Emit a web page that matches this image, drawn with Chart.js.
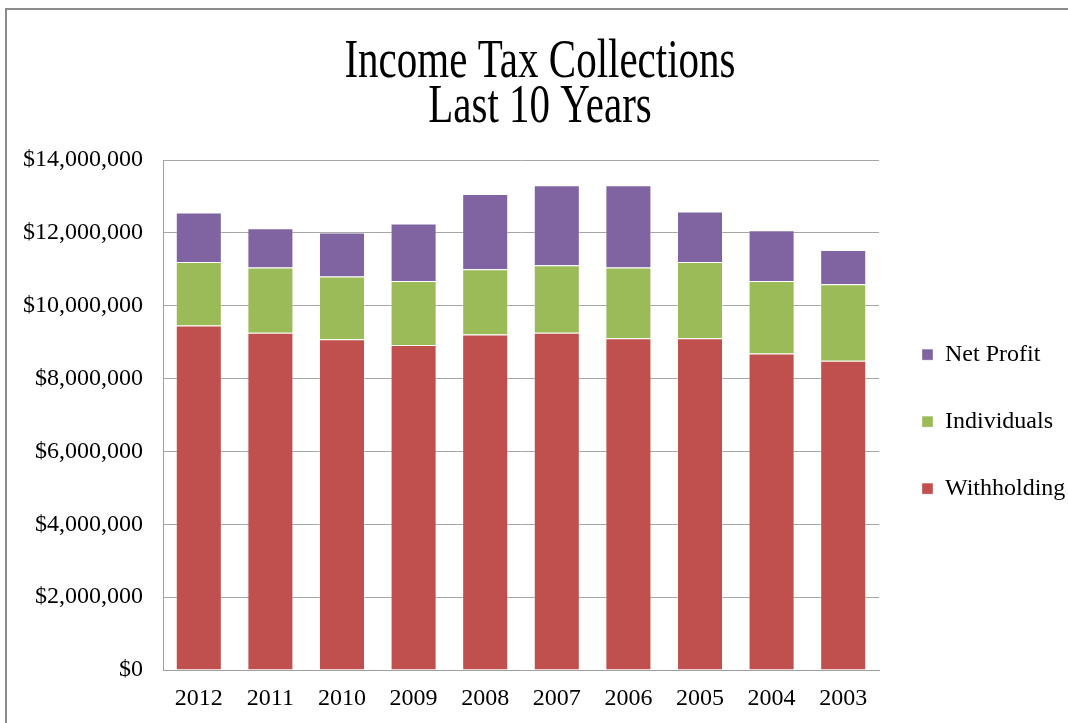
<!DOCTYPE html>
<html>
<head>
<meta charset="utf-8">
<script src="https://cdn.jsdelivr.net/npm/chart.js@4"></script>
<style>
html, body { margin: 0; padding: 0; background: #ffffff; overflow: hidden; }
#c { display: block; }
</style>
</head>
<body>
<canvas id="c" width="1068" height="723"></canvas>
<script>
const years = ['2012', '2011', '2010', '2009', '2008', '2007', '2006', '2005', '2004', '2003'];
const withholding = [9460000, 9260000, 9080000, 8920000, 9210000, 9260000, 9110000, 9110000, 8690000, 8490000];
const individuals = [1740000, 1790000, 1720000, 1760000, 1790000, 1850000, 1940000, 2090000, 1990000, 2100000];
const netProfit = [1360000, 1080000, 1210000, 1580000, 2070000, 2200000, 2260000, 1390000, 1390000, 940000];
const titleLines = ['Income Tax Collections', 'Last 10 Years'];
const yMax = 14000000;
const yStep = 2000000;

const FONT = '"Liberation Serif", "Times New Roman", serif';
const TITLE_STRETCH = 1.35;

const frame = {
  id: 'frame',
  beforeDraw(chart) {
    const ctx = chart.ctx;
    ctx.save();
    ctx.fillStyle = '#ffffff';
    ctx.fillRect(0, 0, chart.width, chart.height);
    ctx.strokeStyle = '#8c8c8c';
    ctx.lineWidth = 2;
    ctx.strokeRect(6, 9, 1200, 900);
    ctx.restore();
  }
};

const stretchTitle = {
  id: 'stretchTitle',
  afterLayout(chart) {
    const tb = chart.titleBlock;
    if (tb && !tb._stretched) {
      const orig = tb.draw.bind(tb);
      tb.draw = function () {
        const ctx = chart.ctx;
        const y0 = tb.top;
        ctx.save();
        ctx.translate(0, y0);
        ctx.scale(1, TITLE_STRETCH);
        ctx.translate(0, -y0);
        orig();
        ctx.restore();
      };
      tb._stretched = true;
    }
  }
};

new Chart(document.getElementById('c'), {
  type: 'bar',
  data: {
    labels: years,
    datasets: [
      { label: 'Withholding', data: withholding, backgroundColor: '#C0504D', borderColor: 'rgba(255,255,255,0.35)', borderWidth: 1 },
      { label: 'Individuals', data: individuals, backgroundColor: '#9BBB59', borderColor: 'rgba(255,255,255,0.35)', borderWidth: 1 },
      { label: 'Net Profit', data: netProfit, backgroundColor: '#8064A2', borderColor: 'rgba(255,255,255,0.35)', borderWidth: 1 }
    ]
  },
  options: {
    responsive: false,
    animation: false,
    devicePixelRatio: 1,
    layout: { padding: { left: 12, right: 0, top: 0, bottom: 10 } },
    datasets: { bar: { barPercentage: 0.643, categoryPercentage: 1.0 } },
    scales: {
      x: {
        stacked: true,
        grid: { display: false, drawTicks: false },
        border: { display: true, color: '#a0a0a0', width: 1 },
        ticks: { color: '#000000', padding: 14, font: { family: FONT, size: 24 } },
        afterFit(scale) { scale.height = 43; }
      },
      y: {
        stacked: true,
        min: 0,
        max: yMax,
        grid: { color: '#a6a6a6', lineWidth: 1, drawTicks: false },
        border: { display: true, color: '#a0a0a0', width: 1 },
        ticks: {
          stepSize: yStep,
          color: '#000000',
          padding: 20,
          font: { family: FONT, size: 24 },
          callback: (v) => '$' + Number(v).toLocaleString('en-US')
        },
        afterFit(scale) { scale.width = 151; }
      }
    },
    plugins: {
      title: {
        display: true,
        text: titleLines,
        color: '#000000',
        font: { family: FONT, size: 41, weight: 'normal', lineHeight: 0.813 },
        padding: { top: 29.6, bottom: 63.8 }
      },
      legend: {
        position: 'right',
        fullSize: false,
        reverse: true,
        maxWidth: 189,
        title: { display: true, text: ' ', font: { size: 1 }, padding: { top: 0, bottom: 12 } },
        labels: {
          color: '#000000',
          boxWidth: 11,
          boxHeight: 11,
          padding: 43,
          font: { family: FONT, size: 24 }
        }
      },
      tooltip: { enabled: false }
    }
  },
  plugins: [frame, stretchTitle]
});
</script>
</body>
</html>
